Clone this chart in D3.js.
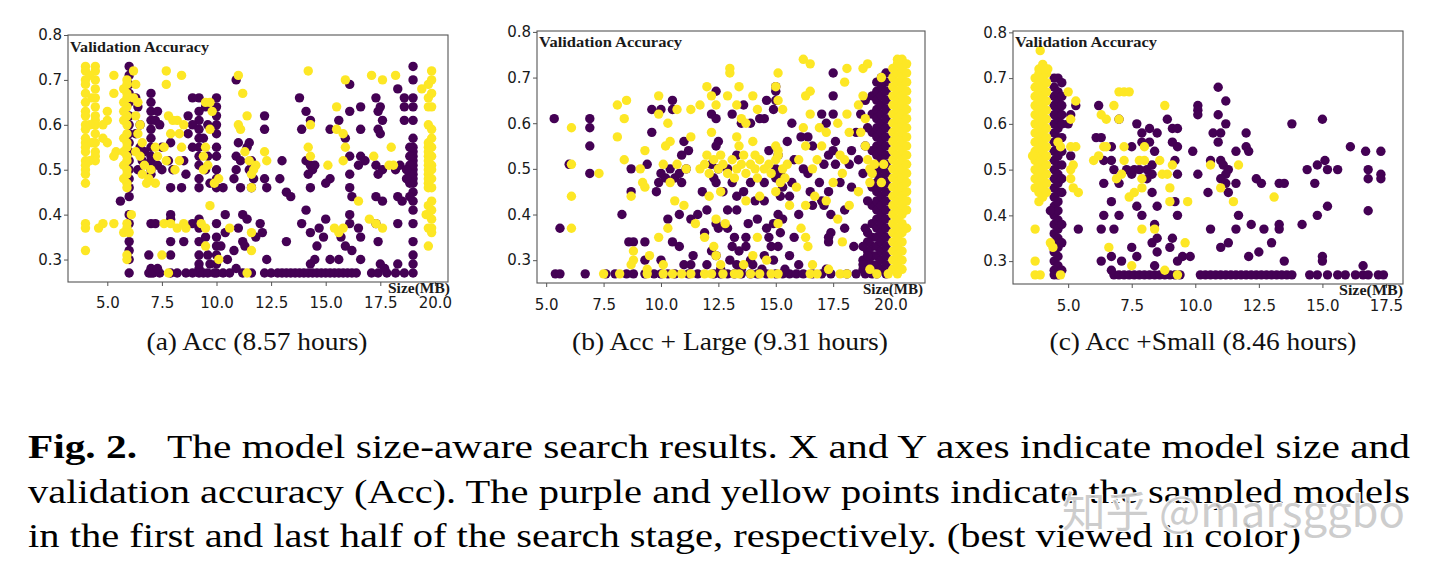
<!DOCTYPE html>
<html><head><meta charset="utf-8">
<script src="https://cdn.jsdelivr.net/npm/d3@7/dist/d3.min.js"></script>
<style>body{margin:0;background:#fff}svg{display:block}</style>
</head><body>
<svg id="chart" width="1439" height="571"></svg>
<script>
// ---------------- DATA ----------------
const yTickValues = [0.3, 0.4, 0.5, 0.6, 0.7, 0.8];
const xTicksAB = [5, 7.5, 10, 12.5, 15, 17.5, 20];
const xTicksC = [5, 7.5, 10, 12.5, 15, 17.5];
const captions = ["(a) Acc (8.57 hours)", "(b) Acc + Large (9.31 hours)", "(c) Acc +Small (8.46 hours)"];
const yLabelText = "Validation Accuracy";
const xLabelText = "Size(MB)";
const figLabel = "Fig. 2.";
const paragraphLines = [
  "The model size-aware search results. X and Y axes indicate model size and",
  "validation accuracy (Acc). The purple and yellow points indicate the sampled models",
  "in the first and last half of the search stage, respectively. (best viewed in color)"
];
const watermark = "知乎 @marsggbo";

// Panel (a) — columns of points [x, [y...]], bottom row x values (y = 0.27), and single points
const aPurpleCols = [
  [6.0, [0.73,0.71,0.69,0.67,0.65,0.62,0.60,0.58,0.56,0.54,0.52,0.50,0.48,0.46,0.44,0.40,0.38,0.34,0.32,0.30,0.27]],
  [7.0, [0.67,0.65,0.63,0.61,0.59,0.57,0.55,0.53,0.52,0.50,0.49,0.38,0.28,0.27]],
  [9.2, [0.66,0.63,0.61,0.59,0.57,0.55,0.53,0.51,0.48,0.46,0.39,0.37,0.34,0.31,0.29,0.28,0.27]],
  [10.0, [0.66,0.64,0.62,0.60,0.58,0.55,0.53,0.50,0.48,0.46,0.38,0.35,0.33,0.31,0.29,0.27]],
  [19.0, [0.73,0.70,0.66,0.64,0.61,0.57,0.55,0.54,0.53,0.52,0.51,0.50,0.49,0.48,0.47,0.45,0.43,0.41,0.38,0.34,0.31,0.29,0.27]],
  [18.85, [0.55,0.53,0.51,0.49,0.47,0.44]]
];
const aPurpleRowX = [6.9,7.1,7.4,7.9,8.2,8.6,8.9,9.4,9.6,9.9,10.3,10.6,11.2,11.6,12.2,12.5,12.8,13.0,13.2,13.4,13.6,13.8,14.0,14.2,14.4,14.6,14.8,15.0,15.2,15.4,15.6,15.8,16.0,16.2,16.4,17.1,17.4,17.8,18.2,18.6];
const aPurplePts = [
  [5.6,0.43],[6.3,0.66],[6.4,0.64],[6.5,0.60],[6.3,0.58],[6.5,0.55],[6.6,0.52],[6.4,0.50],[6.7,0.54],
  [7.3,0.63],[7.2,0.61],[7.4,0.60],[7.5,0.55],[7.3,0.51],[7.5,0.50],[7.2,0.38],[6.9,0.31],[7.3,0.28],
  [7.9,0.56],[7.8,0.52],[8.0,0.50],[7.9,0.46],[7.9,0.40],[7.9,0.39],[7.9,0.34],[7.9,0.31],
  [8.9,0.66],[8.7,0.62],[8.9,0.60],[8.7,0.58],[8.9,0.55],[8.5,0.52],[8.6,0.49],[8.4,0.46],[8.9,0.38],[8.5,0.34],
  [9.5,0.64],[9.6,0.60],[9.4,0.57],[9.6,0.53],[9.5,0.50],[9.7,0.47],[9.5,0.35],[9.6,0.31],[9.7,0.29],
  [10.4,0.40],[10.3,0.46],[10.4,0.36],[10.2,0.33],[10.5,0.30],
  [10.9,0.70],[11.0,0.56],[10.9,0.53],[11.1,0.52],[10.9,0.50],[10.8,0.48],[11.1,0.46],[11.2,0.40],[11.0,0.37],[11.2,0.34],[10.8,0.32],[10.9,0.28],
  [11.5,0.56],[11.4,0.55],[11.6,0.52],[11.5,0.50],[11.7,0.48],[11.6,0.46],[11.4,0.39],[11.8,0.35],[11.3,0.33],
  [12.2,0.62],[12.2,0.59],[12.2,0.48],[12.3,0.46],[12.0,0.38],[12.1,0.36],[12.3,0.30],
  [12.9,0.48],[13.0,0.52],[13.2,0.34],[13.2,0.45],[13.4,0.44],
  [13.8,0.66],[14.1,0.63],[14.3,0.61],[13.9,0.59],[14.1,0.52],[14.3,0.51],[14.4,0.50],[14.2,0.49],[14.5,0.51],[14.3,0.46],[14.1,0.41],[13.9,0.38],[14.3,0.36],[14.6,0.33],[14.5,0.30],[14.3,0.29],
  [15.2,0.59],[15.2,0.48],[15.0,0.47],[15.0,0.39],[14.7,0.37],[14.9,0.35],[15.2,0.30],
  [16.1,0.69],[16.1,0.63],[15.6,0.61],[15.9,0.57],[16.1,0.53],[16.1,0.49],[16.1,0.46],[16.2,0.44],[16.1,0.40],[16.1,0.38],[15.7,0.35],[15.9,0.33],[16.2,0.32],[15.6,0.30],
  [16.6,0.64],[16.6,0.59],[16.6,0.53],[16.8,0.52],[16.5,0.51],[16.5,0.37],[16.6,0.35],[16.6,0.30],
  [17.3,0.66],[17.5,0.64],[17.4,0.63],[17.6,0.61],[17.4,0.59],[17.5,0.58],[17.3,0.51],[17.6,0.50],[17.4,0.49],[17.3,0.44],[17.6,0.43],[17.3,0.38],[17.4,0.34],[17.5,0.29],[17.7,0.28],
  [18.3,0.68],[18.4,0.51],[18.2,0.50],[18.3,0.44],[18.5,0.43],[18.3,0.38],[18.3,0.29],[18.6,0.66],[18.6,0.64],[18.6,0.61],[18.7,0.50],[18.7,0.48]
];
const aYellowCols = [
  [4.0, [0.73,0.72,0.70,0.69,0.67,0.65,0.63,0.62,0.60,0.59,0.57,0.56,0.55,0.54,0.52,0.51,0.50,0.49,0.47,0.38,0.37,0.32]],
  [4.45, [0.73,0.72,0.70,0.68,0.66,0.64,0.62,0.61,0.60,0.58,0.56,0.54,0.53,0.52]],
  [5.9, [0.70,0.69,0.67,0.66,0.64,0.62,0.60,0.58,0.56,0.55,0.53,0.52,0.50,0.49,0.47,0.46,0.38,0.37,0.31,0.30]],
  [5.75, [0.68,0.65,0.63,0.61,0.57,0.54,0.51,0.48,0.36]],
  [19.7, [0.69,0.66,0.64,0.60,0.56,0.55,0.54,0.53,0.52,0.51,0.50,0.49,0.48,0.47,0.46,0.42,0.40,0.37,0.33]],
  [19.85, [0.72,0.70,0.67,0.64,0.59,0.57,0.55,0.53,0.51,0.50,0.48,0.46,0.43,0.41,0.39,0.37,0.36]]
];
const aYellowPts = [
  [4.2,0.71],[4.3,0.66],[4.2,0.60],[4.3,0.56],[4.2,0.52],[4.8,0.60],[4.8,0.57],[5.0,0.63],[5.0,0.61],[5.0,0.56],[5.3,0.71],[5.3,0.67],[5.4,0.54],[5.3,0.53],[4.8,0.38],[5.3,0.38],[4.6,0.37],
  [6.2,0.72],[6.3,0.69],[6.2,0.66],[6.4,0.65],[6.3,0.62],[6.5,0.60],[6.4,0.58],[6.6,0.56],[6.3,0.54],[6.5,0.53],[6.7,0.51],[6.6,0.49],[6.9,0.48],[7.2,0.47],[7.3,0.53],[7.2,0.55],[7.0,0.50],[6.8,0.47],[6.1,0.40],[6.0,0.36],
  [7.7,0.72],[7.7,0.69],[7.8,0.62],[8.0,0.61],[8.2,0.61],[7.9,0.58],[7.6,0.55],[7.7,0.52],[8.1,0.50],[8.3,0.58],[8.5,0.60],[8.4,0.55],[8.3,0.52],[8.4,0.71],
  [7.6,0.38],[7.9,0.38],[8.2,0.37],[8.5,0.38],[8.6,0.37],[7.5,0.31],[7.8,0.27],
  [9.5,0.65],[9.7,0.65],[9.8,0.63],[9.7,0.59],[9.5,0.55],[9.4,0.53],[9.6,0.51],[9.4,0.50],[9.9,0.47],[10.1,0.48],[9.7,0.42],[9.3,0.38],[9.5,0.37],[9.5,0.33],[10.1,0.30],
  [11.0,0.71],[11.2,0.67],[11.0,0.60],[11.1,0.59],[11.4,0.62],[11.3,0.54],[11.5,0.52],[11.8,0.51],[11.7,0.50],[11.6,0.49],[11.6,0.46],[10.6,0.37],[11.6,0.36],[11.6,0.32],[11.4,0.27],
  [12.2,0.54],[12.3,0.52],[14.2,0.72],[14.3,0.60],[14.2,0.55],[14.3,0.53],[15.1,0.51],
  [15.5,0.64],[15.5,0.59],[15.8,0.58],[15.9,0.55],[15.8,0.52],[15.4,0.37],[15.6,0.36],[15.8,0.37],[15.9,0.70],[16.5,0.43],
  [17.1,0.71],[17.6,0.70],[18.2,0.71],[17.2,0.53],[18.0,0.55],[17.9,0.51],[18.1,0.51],[17.0,0.39],[17.3,0.38],[17.6,0.37],[19.4,0.68],[19.6,0.40]
];

// Panel (b)
const bPurpleCols = [
  [19.2, [0.66,0.62,0.58,0.54,0.50,0.46,0.42,0.38,0.35,0.33,0.31,0.29,0.27]],
  [19.4, [0.69,0.67,0.65,0.63,0.61,0.59,0.57,0.55,0.53,0.51,0.49,0.47,0.45,0.43,0.41,0.39,0.37,0.35,0.33,0.31,0.29,0.27]],
  [19.6, [0.70,0.68,0.66,0.64,0.62,0.60,0.58,0.56,0.54,0.52,0.50,0.48,0.46,0.44,0.42,0.40,0.38,0.36,0.34,0.32,0.30,0.28]],
  [19.8, [0.71,0.69,0.67,0.65,0.63,0.61,0.59,0.57,0.55,0.53,0.51,0.49,0.47,0.45,0.43,0.41,0.39,0.37,0.35,0.33,0.31,0.29,0.27]],
  [19.0, [0.36,0.34,0.32,0.30,0.28]],
  [18.8, [0.33,0.30,0.28]]
];
const bPurpleRowX = [5.4,5.6,6.7,7.6,8.0,8.5,8.8,9.3,9.7,10.0,10.3,10.6,11.2,11.6,12.3,12.6,12.9,13.2,13.5,13.9,14.2,14.6,15.0,15.3,15.6,15.9,16.2,16.6,17.0,17.4,18.1,18.5,18.9];
const bPurplePts = [
  [5.35,0.61],[5.6,0.37],[6.0,0.51],[6.9,0.61],[6.9,0.59],[6.9,0.55],[6.9,0.49],
  [8.3,0.40],[8.6,0.34],[8.8,0.34],[8.7,0.50],[8.7,0.45],[9.4,0.51],[9.3,0.34],[9.3,0.30],[9.6,0.63],[9.6,0.58],[10.0,0.63],
  [9.9,0.47],[10.0,0.49],[10.2,0.48],[10.4,0.50],[10.6,0.48],[10.8,0.49],[10.9,0.47],[11.1,0.50],[10.3,0.39],[10.5,0.34],[10.8,0.40],[10.8,0.33],
  [10.5,0.65],[10.5,0.63],[11.0,0.56],[10.9,0.53],[11.2,0.54],[11.3,0.39],[11.6,0.40],[11.4,0.31],[11.3,0.29],
  [12.4,0.67],[12.2,0.62],[12.4,0.61],[12.5,0.56],[12.4,0.55],[12.2,0.51],[12.5,0.50],[12.3,0.48],[12.4,0.47],[12.4,0.38],[12.5,0.37],[12.2,0.32],[12.4,0.31],[12.6,0.28],
  [13.1,0.62],[13.5,0.60],[13.3,0.53],[12.9,0.50],[13.1,0.47],[13.3,0.44],[12.9,0.41],[12.9,0.37],[13.2,0.35],[13.4,0.32],[13.0,0.30],[13.3,0.29],[13.5,0.28],[13.1,0.33],
  [13.6,0.64],[13.9,0.60],[13.9,0.47],[13.6,0.45],[13.7,0.35],[13.7,0.33],[13.9,0.30],
  [14.6,0.65],[14.3,0.61],[14.5,0.61],[14.7,0.54],[14.5,0.47],[14.5,0.43],[14.2,0.39],[14.6,0.37],[14.7,0.35],[14.8,0.33],[14.5,0.31],[14.4,0.28],
  [15.0,0.68],[15.0,0.67],[15.0,0.65],[14.9,0.63],[15.1,0.53],[15.0,0.50],[15.2,0.49],[15.0,0.48],[15.3,0.46],[15.2,0.44],[15.1,0.40],[15.3,0.39],[14.9,0.38],[15.2,0.36],[15.1,0.33],
  [15.7,0.60],[16.1,0.57],[15.8,0.52],[15.7,0.47],[15.6,0.44],[16.0,0.40],[15.6,0.31],
  [16.4,0.57],[16.6,0.55],[16.4,0.49],[16.5,0.45],[16.6,0.42],
  [17.0,0.62],[17.2,0.60],[17.3,0.53],[17.1,0.51],[17.0,0.43],[17.1,0.42],[17.4,0.40],[17.4,0.36],[17.3,0.34],[17.2,0.28],
  [17.5,0.71],[17.5,0.66],[17.5,0.62],[17.6,0.56],[17.5,0.54],[17.6,0.51],[17.3,0.45],[17.3,0.35],
  [18.3,0.54],[18.2,0.51],[18.0,0.41],[18.0,0.37],
  [18.9,0.65],[19.0,0.59],[18.9,0.55],[18.8,0.49],[19.0,0.43],[18.9,0.37],[19.0,0.31],[18.8,0.29],[19.1,0.28],
  [11.8,0.45],[12.0,0.41],[11.9,0.36],[12.7,0.45],[13.3,0.41],[13.8,0.38],[14.1,0.43],[14.9,0.30],[15.5,0.56],[15.8,0.35],[16.2,0.50],[16.9,0.47],[17.8,0.47],[18.3,0.46],[18.6,0.52],[18.5,0.58],[18.7,0.62],[18.4,0.33],[16.0,0.29],[15.4,0.28],[14.0,0.29],[12.0,0.29],[11.0,0.29],[10.0,0.30],[9.8,0.45]
];
const bYellowCols = [
  [20.1, [0.72,0.70,0.68,0.66,0.64,0.62,0.60,0.58,0.56,0.54,0.52,0.50,0.48,0.46,0.44,0.42,0.40,0.38,0.36,0.34,0.32,0.30,0.28]],
  [20.3, [0.74,0.73,0.71,0.69,0.67,0.65,0.63,0.61,0.59,0.57,0.55,0.53,0.51,0.49,0.47,0.45,0.43,0.41,0.39,0.37,0.35,0.33,0.31,0.29,0.27]],
  [20.5, [0.74,0.72,0.70,0.68,0.66,0.64,0.62,0.60,0.58,0.56,0.54,0.52,0.50,0.48,0.46,0.44,0.42,0.40,0.38,0.36,0.34,0.32,0.30,0.28]],
  [20.7, [0.73,0.71,0.69,0.67,0.65,0.63,0.61,0.59,0.57,0.55,0.53,0.51,0.49,0.47,0.45,0.43,0.41,0.37]]
];
const bYellowRowX = [7.5,8.2,9.4,10.1,10.5,10.9,11.3,11.9,12.2,12.7,13.2,13.4,13.9,14.3,14.8,15.1,16.5,16.8,17.8,18.1,19.4,19.9];
const bYellowPts = [
  [11.7,0.50],[11.9,0.51],[12.1,0.49],[12.3,0.52],[12.5,0.50],[12.7,0.51],[12.9,0.49],[13.1,0.52],[13.3,0.50],[13.5,0.51],[13.7,0.49],[13.9,0.51],[14.1,0.50],[14.3,0.52],[14.5,0.50],[14.7,0.51],[15.0,0.52],[15.3,0.50],[15.5,0.51],
  [12.0,0.53],[12.6,0.53],[13.2,0.48],[13.6,0.53],[14.2,0.48],[14.8,0.49],[15.1,0.54],[15.4,0.48],
  [6.1,0.59],[6.1,0.51],[6.1,0.44],[6.1,0.37],[7.3,0.49],
  [8.1,0.64],[8.5,0.65],[8.1,0.57],[8.4,0.61],[8.4,0.52],[8.7,0.44],[8.8,0.30],[8.7,0.29],
  [9.1,0.50],[9.2,0.47],[9.3,0.54],[9.3,0.46],[8.8,0.32],[9.5,0.31],[9.4,0.28],
  [9.9,0.66],[9.9,0.62],[10.3,0.60],[10.2,0.55],[10.1,0.51],[10.4,0.47],[9.9,0.35],[10.1,0.29],[10.3,0.37],[10.4,0.56],
  [10.7,0.63],[10.7,0.51],[10.6,0.43],[11.3,0.63],[11.3,0.57],[11.1,0.50],
  [11.7,0.64],[12.0,0.68],[12.2,0.66],[12.4,0.64],[13.0,0.72],[13.0,0.71],[12.9,0.66],[13.4,0.68],[13.3,0.64],[13.5,0.61],[13.3,0.57],[13.4,0.55],[13.7,0.60],[14.0,0.66],[14.2,0.63],[14.0,0.56],[14.1,0.53],
  [12.2,0.58],[12.1,0.44],[12.6,0.45],[12.4,0.39],[12.8,0.38],[12.3,0.33],[12.4,0.31],
  [14.3,0.44],[13.7,0.43],[14.2,0.35],[14.6,0.30],
  [15.1,0.71],[15.0,0.68],[15.1,0.65],[15.3,0.63],[15.0,0.55],[15.1,0.53],[15.2,0.47],[15.0,0.45],[15.1,0.38],
  [16.2,0.74],[16.5,0.73],[16.5,0.67],[16.3,0.66],[16.5,0.62],[16.2,0.59],[16.6,0.50],[16.8,0.52],[17.0,0.55],[17.2,0.58],[16.9,0.59],[16.7,0.44],[16.3,0.42],[16.1,0.37],[16.3,0.35],[16.4,0.33],[16.6,0.29],[17.3,0.28],[17.9,0.34],
  [17.7,0.60],[17.8,0.53],[18.0,0.52],[17.9,0.49],[18.0,0.69],[18.1,0.72],[18.1,0.62],[18.2,0.58],
  [18.8,0.72],[19.0,0.73],[18.8,0.66],[18.9,0.61],[18.9,0.55],[19.0,0.52],[19.1,0.50],[19.3,0.51],[19.1,0.47],[19.2,0.49],[19.1,0.28],
  [19.6,0.70],[19.7,0.51],[19.6,0.47],
  [11.0,0.42],[11.5,0.38],[11.9,0.35],[12.6,0.29],[13.6,0.29],[14.0,0.31],[15.6,0.42],[15.9,0.46],[16.0,0.52],[16.3,0.55],[17.5,0.47],[17.2,0.43],[18.6,0.64],[18.7,0.58],[18.6,0.45],[18.2,0.42],[17.7,0.39]
];

// Panel (c)
const cPurpleCols = [
  [4.45, [0.70,0.68,0.66,0.64,0.62,0.60,0.58,0.56,0.54,0.52,0.50,0.48,0.46,0.44,0.42,0.40,0.38,0.36,0.34,0.32,0.30,0.28,0.27]],
  [4.6, [0.70,0.67,0.65,0.63,0.61,0.59,0.57,0.55,0.53,0.51,0.49,0.47,0.45,0.43,0.41,0.39,0.37,0.35,0.33,0.31,0.29,0.27]],
  [4.75, [0.69,0.66,0.64,0.62,0.60,0.57,0.54,0.51,0.48,0.45,0.38,0.34,0.28]]
];
const cPurpleRowX = [6.8,7.0,7.2,7.4,7.6,7.8,8.0,8.2,8.4,8.6,8.8,9.0,9.2,9.4,10.2,10.4,10.6,10.8,11.0,11.2,11.4,11.6,11.8,12.0,12.2,12.4,12.6,12.8,13.0,13.2,13.4,13.6,13.8,14.5,14.8,15.2,15.6,15.9,16.3,16.6,16.8,17.2,17.4];
const cPurplePts = [
  [4.3,0.41],[5.1,0.62],[5.3,0.64],[5.4,0.37],[5.0,0.60],[5.1,0.53],
  [6.2,0.64],[6.1,0.57],[6.3,0.57],[6.4,0.52],[6.4,0.47],[6.3,0.37],[6.3,0.30],[6.4,0.40],
  [6.7,0.55],[6.7,0.52],[6.8,0.50],[6.7,0.43],[6.8,0.37],[6.7,0.31],[6.7,0.28],[7.0,0.61],[7.0,0.47],[7.0,0.40],[7.1,0.30],
  [7.5,0.55],[7.3,0.50],[7.5,0.49],[7.6,0.50],[7.8,0.50],[8.1,0.50],[8.3,0.49],
  [7.7,0.60],[7.9,0.58],[7.9,0.56],[8.2,0.59],[8.2,0.56],[8.4,0.54],[8.5,0.58],[8.3,0.51],[8.1,0.48],[8.3,0.45],[7.7,0.42],[8.5,0.42],[7.9,0.40],[8.4,0.38],[8.5,0.35],[8.3,0.34],[8.5,0.32],[7.5,0.33],[7.7,0.31],[8.4,0.29],
  [8.9,0.61],[9.1,0.56],[9.1,0.59],[9.3,0.59],[9.3,0.55],[9.2,0.52],[9.3,0.49],[9.2,0.43],[9.3,0.40],[9.1,0.35],[9.0,0.33],[9.3,0.30],[9.5,0.31],
  [9.9,0.54],[9.8,0.31],
  [10.1,0.64],[10.1,0.63],[10.1,0.62],[10.1,0.49],[10.5,0.45],[10.6,0.52],[10.7,0.58],[10.6,0.37],[10.9,0.68],[10.9,0.62],[10.9,0.56],[11.0,0.33],[11.2,0.65],[11.2,0.60],[11.0,0.58],
  [11.0,0.52],[11.1,0.51],[11.3,0.50],[11.2,0.49],[11.0,0.48],[11.2,0.47],[11.3,0.45],[11.6,0.54],[11.6,0.47],[11.7,0.40],[11.6,0.37],[11.3,0.34],
  [12.0,0.58],[12.0,0.55],[12.1,0.54],[12.2,0.38],[12.1,0.31],[12.4,0.48],[12.6,0.47],[12.7,0.37],[12.5,0.32],[13.0,0.34],[13.3,0.47],[13.5,0.47],[13.3,0.38],[13.3,0.37],[13.5,0.30],[13.8,0.60],
  [14.2,0.38],[14.4,0.50],[14.8,0.51],[14.7,0.47],[14.8,0.40],[15.0,0.61],[15.1,0.52],[15.2,0.50],[15.2,0.42],[15.0,0.31],[15.0,0.30],[15.6,0.50],[16.1,0.55],[16.7,0.54],[16.8,0.50],[16.8,0.48],[16.8,0.41],[16.6,0.29],[17.3,0.54],[17.3,0.49],[17.3,0.48]
];
const cYellowCols = [
  [3.7, [0.70,0.68,0.66,0.64,0.62,0.60,0.58,0.56,0.54,0.52,0.50,0.48,0.46]],
  [3.85, [0.72,0.71,0.69,0.67,0.65,0.63,0.61,0.59,0.57,0.55,0.53,0.51,0.49,0.47,0.45,0.43]],
  [4.0, [0.71,0.70,0.68,0.66,0.64,0.62,0.60,0.58,0.56,0.54,0.52,0.50,0.48,0.46,0.44]],
  [4.15, [0.71,0.69,0.67,0.65,0.63,0.61,0.59,0.57,0.55,0.53,0.51,0.49,0.47,0.45]]
];
const cYellowPts = [
  [3.9,0.76],[4.0,0.73],[4.2,0.72],[4.1,0.72],[3.6,0.53],[3.7,0.37],[3.7,0.30],[3.7,0.27],[3.9,0.27],[4.3,0.34],[4.4,0.33],[4.7,0.27],
  [4.6,0.56],[4.7,0.55],[5.1,0.61],[5.0,0.67],[5.3,0.65],[5.1,0.55],[5.3,0.55],[5.1,0.50],[5.2,0.51],[5.1,0.48],[5.2,0.46],[5.4,0.45],
  [6.0,0.52],[6.2,0.53],[6.3,0.62],[6.5,0.61],[6.5,0.55],[6.4,0.55],[6.6,0.33],
  [6.8,0.64],[7.0,0.67],[7.2,0.67],[7.4,0.67],[7.0,0.61],[6.9,0.48],[7.1,0.49],[7.2,0.52],[7.2,0.55],[7.4,0.44],[7.6,0.45],[7.5,0.29],
  [7.8,0.52],[8.0,0.55],[8.0,0.52],[7.9,0.48],[7.9,0.46],[7.9,0.37],[8.4,0.37],
  [8.7,0.49],[8.6,0.52],[8.8,0.64],[8.9,0.49],[9.0,0.43],[9.0,0.46],[9.1,0.51],[8.8,0.28],[9.3,0.27],[9.6,0.34],[9.7,0.43],
  [10.6,0.51],[11.0,0.46],[11.5,0.43],[11.7,0.51],[13.1,0.44]
];

// ---------------- RENDER ----------------
const PURPLE = "#440154", YELLOW = "#fde725";
const R = 4.7;
const expand = (cols, rowX, pts) =>
  cols.flatMap(([x, ys]) => ys.map(y => [x, y]))
    .concat(rowX.map(x => [x, 0.27]))
    .concat(pts);

const panels = [
  { purple: expand(aPurpleCols, aPurpleRowX, aPurplePts), yellow: expand(aYellowCols, [], aYellowPts),
    xDomain: [3.2, 20.6], yDomain: [0.25, 0.8], xTicks: xTicksAB, caption: captions[0],
    box: {l: 68, t: 35, r: 448, b: 282}, xPad: 11, yLab: {x: 70, y: 52, w: 139}, xLab: {x: 450, y: 293, w: 62}, capX: 257 },
  { purple: expand(bPurpleCols, bPurpleRowX, bPurplePts), yellow: expand(bYellowCols, bYellowRowX, bYellowPts),
    xDomain: [4.6, 21.5], yDomain: [0.25, 0.802], xTicks: xTicksAB, caption: captions[1],
    box: {l: 537, t: 31, r: 925, b: 283}, xPad: 12, yLab: {x: 539, y: 47, w: 143}, xLab: {x: 923, y: 294, w: 60}, capX: 730 },
  { purple: expand(cPurpleCols, cPurpleRowX, cPurplePts), yellow: expand(cYellowCols, [], cYellowPts),
    xDomain: [2.83, 18.17], yDomain: [0.25, 0.803], xTicks: xTicksC, caption: captions[2],
    box: {l: 1013, t: 31, r: 1403, b: 284}, xPad: 12, yLab: {x: 1015, y: 47, w: 142}, xLab: {x: 1403, y: 295, w: 64}, capX: 1203 }
];
const capWidths = [221, 316, 307];

const svg = d3.select("#chart");
svg.append("rect").attr("width", 1439).attr("height", 571).attr("fill", "#fff");

panels.forEach((p, i) => {
  const x = d3.scaleLinear().domain(p.xDomain).range([p.box.l, p.box.r]);
  const y = d3.scaleLinear().domain(p.yDomain).range([p.box.b, p.box.t]);
  const g = svg.append("g");
  const clipId = "clip" + i;
  g.append("clipPath").attr("id", clipId).append("rect")
    .attr("x", p.box.l).attr("y", p.box.t).attr("width", p.box.r - p.box.l).attr("height", p.box.b - p.box.t);
  const pts = g.append("g").attr("clip-path", `url(#${clipId})`);
  pts.selectAll("circle.p").data(p.purple).join("circle").attr("class", "p")
    .attr("cx", d => x(d[0])).attr("cy", d => y(d[1])).attr("r", R).attr("fill", PURPLE);
  pts.selectAll("circle.y").data(p.yellow).join("circle").attr("class", "y")
    .attr("cx", d => x(d[0])).attr("cy", d => y(d[1])).attr("r", R).attr("fill", YELLOW);

  const xa = g.append("g").attr("transform", `translate(0,${p.box.b})`)
    .call(d3.axisBottom(x).tickValues(p.xTicks).tickFormat(d3.format(".1f")).tickSize(4).tickPadding(p.xPad));
  const ya = g.append("g").attr("transform", `translate(${p.box.l},0)`)
    .call(d3.axisLeft(y).tickValues(yTickValues).tickFormat(d3.format(".1f")).tickSize(4).tickPadding(2));
  [xa, ya].forEach(a => {
    a.select(".domain").remove();
    a.selectAll(".tick line").attr("stroke", "#555").attr("stroke-width", 1);
    a.selectAll(".tick text").attr("fill", "#1a1a1a").style("font-family", "'DejaVu Sans', sans-serif").style("font-size", "15px");
  });

  g.append("rect").attr("x", p.box.l).attr("y", p.box.t)
    .attr("width", p.box.r - p.box.l).attr("height", p.box.b - p.box.t)
    .attr("fill", "none").attr("stroke", "#555").attr("stroke-width", 1.1);

  g.append("text").attr("x", p.yLab.x).attr("y", p.yLab.y)
    .attr("textLength", p.yLab.w).attr("lengthAdjust", "spacingAndGlyphs")
    .style("font-family", "'Liberation Serif', 'Times New Roman', serif").style("font-weight", "bold").style("font-size", "15.5px")
    .attr("fill", "#1a1a1a").text(yLabelText);
  g.append("text").attr("x", p.xLab.x - p.xLab.w).attr("y", p.xLab.y)
    .attr("textLength", p.xLab.w).attr("lengthAdjust", "spacingAndGlyphs")
    .style("font-family", "'Liberation Serif', 'Times New Roman', serif").style("font-weight", "bold").style("font-size", "15px")
    .attr("fill", "#1a1a1a").text(xLabelText);

  g.append("text").attr("x", p.capX - capWidths[i] / 2).attr("y", 350)
    .attr("textLength", capWidths[i]).attr("lengthAdjust", "spacingAndGlyphs")
    .style("font-family", "'Liberation Serif', 'Times New Roman', serif").style("font-size", "26px")
    .attr("fill", "#111").text(p.caption);
});

// Figure caption paragraph
const para = svg.append("g").style("font-family", "'Liberation Serif', 'Times New Roman', serif").style("font-size", "34px").attr("fill", "#000");
para.append("text").attr("x", 28).attr("y", 458).attr("textLength", 109).attr("lengthAdjust", "spacingAndGlyphs")
  .style("font-weight", "bold").text(figLabel);
const lineSpecs = [{x: 167, y: 458, w: 1243}, {x: 28, y: 503, w: 1382}, {x: 28, y: 547, w: 1273}];
paragraphLines.forEach((t, i) => {
  para.append("text").attr("x", lineSpecs[i].x).attr("y", lineSpecs[i].y)
    .attr("textLength", lineSpecs[i].w).attr("lengthAdjust", "spacingAndGlyphs").text(t);
});

// watermark (overlaid on the caption text, as in the reference)
svg.append("text").attr("x", 1062).attr("y", 527)
  .attr("textLength", 343).attr("lengthAdjust", "spacingAndGlyphs")
  .style("font-family", "'Noto Sans CJK SC', 'Noto Sans', sans-serif").style("font-size", "42px")
  .attr("fill", "#c4c4c4").attr("fill-opacity", 0.85)
  .attr("stroke", "#fff").attr("stroke-width", 2).style("paint-order", "stroke")
  .text(watermark);
</script>
</body></html>
